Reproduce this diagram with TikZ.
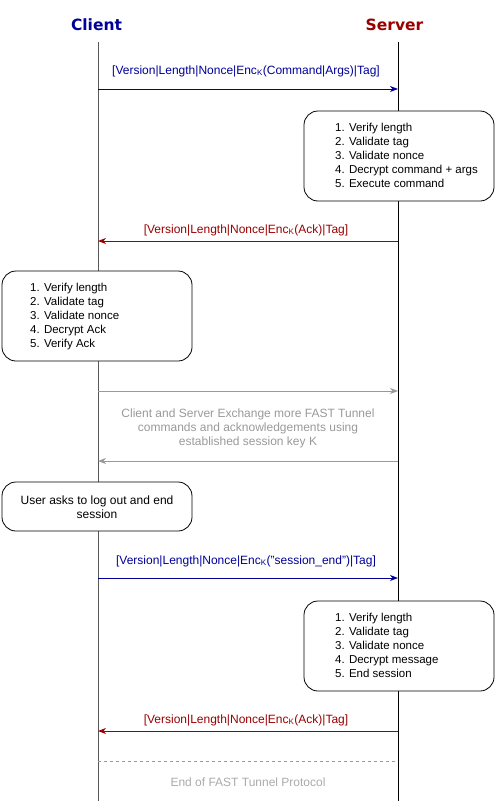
\documentclass[tikz,border=0pt]{standalone}
\usepackage{fontspec}
\setmainfont{Liberation Sans}
\newfontfamily\titlefont{DejaVu Sans}
\usetikzlibrary{arrows.meta}
\definecolor{cblue}{HTML}{000099}
\definecolor{cred}{HTML}{990000}
\definecolor{cgray}{HTML}{999999}
\definecolor{cend}{HTML}{AAAAAA}
\tikzset{
  titletext/.style={font=\titlefont\bfseries\fontsize{15.5}{18}\selectfont, inner sep=0pt},
  msglabel/.style={font=\fontsize{12}{14}\selectfont, inner sep=0pt},
  boxtext/.style={font=\fontsize{11.5}{14}\selectfont, inner sep=0pt, align=left, anchor=north west},
  stepbox/.style={draw=black, rounded corners=14pt, line width=0.8pt},
  msgarrow/.style={-{Stealth[length=8pt,width=6pt,inset=2.5pt]}, line width=0.9pt},
  lifeline/.style={line width=0.9pt}
}
\begin{document}
\begin{tikzpicture}[x=1pt,y=-1pt]
\useasboundingbox (0,0) rectangle (495,803);
% titles
\node[titletext, text=cblue] (client) at (96.5,25) {Client};
\node[titletext, text=cred] (server) at (394.5,25) {Server};
% lifelines
\coordinate (ctop) at (98,42);
\coordinate (cbot) at (98,801);
\coordinate (stop) at (398,42);
\coordinate (sbot) at (398,801);
\draw[lifeline, draw=black!65] (ctop) -- (cbot);
\draw[lifeline, draw=black] (stop) -- (sbot);
% message 1
\coordinate (c1) at (98,89); \coordinate (s1) at (398,89);
\draw[msgarrow, cblue] (c1) -- (s1);
\node[msglabel, text=cblue] (m1) at (246,71) {[Version|Length|Nonce|Enc\textsubscript{K}(Command|Args)|Tag]};
% box 1
\draw[stepbox, fill=white] (304,111) rectangle (494,201);
\node[boxtext] (b1) at (335,123) {1. Verify length\\2. Validate tag\\3. Validate nonce\\4. Decrypt command + args\\5. Execute command};
% message 2
\coordinate (c2) at (98,241); \coordinate (s2) at (398,241);
\draw[msgarrow, cred] (s2) -- (c2);
\node[msglabel, text=cred] (m2) at (246,230) {[Version|Length|Nonce|Enc\textsubscript{K}(Ack)|Tag]};
% box 2
\draw[stepbox, fill=white] (2,271) rectangle (192,361);
\node[boxtext] (b2) at (30,283) {1. Verify length\\2. Validate tag\\3. Validate nonce\\4. Decrypt Ack\\5. Verify Ack};
% gray exchange
\coordinate (c3) at (98,391); \coordinate (s3) at (398,391);
\draw[msgarrow, cgray] (c3) -- (s3);
\node[msglabel, text=cgray, align=center] (m3) at (248,428.5) {Client and Server Exchange more FAST Tunnel\\commands and acknowledgements using\\established session key K};
\coordinate (c4) at (98,461); \coordinate (s4) at (398,461);
\draw[msgarrow, cgray] (s4) -- (c4);
% box 3
\draw[stepbox, fill=white] (2,482) rectangle (192,531);
\node[msglabel, align=center] (b3) at (97,507) {User asks to log out and end\\session};
% message 4
\coordinate (c5) at (98,578); \coordinate (s5) at (398,578);
\draw[msgarrow, cblue] (c5) -- (s5);
\node[msglabel, text=cblue] (m4) at (246,561) {[Version|Length|Nonce|Enc\textsubscript{K}("session\_end")|Tag]};
% box 4
\draw[stepbox, fill=white] (304,601) rectangle (494,691);
\node[boxtext] (b4) at (335,613) {1. Verify length\\2. Validate tag\\3. Validate nonce\\4. Decrypt message\\5. End session};
% message 5
\coordinate (c6) at (98,731); \coordinate (s6) at (398,731);
\draw[msgarrow, cred] (s6) -- (c6);
\node[msglabel, text=cred] (m5) at (246,720) {[Version|Length|Nonce|Enc\textsubscript{K}(Ack)|Tag]};
% end
\coordinate (c7) at (98,761); \coordinate (s7) at (398,761);
\draw[cgray, dash pattern=on 3pt off 3pt, line width=0.7pt] (c7) -- (s7);
\node[msglabel, text=cend] (endt) at (248,782) {End of FAST Tunnel Protocol};
\end{tikzpicture}
\end{document}
